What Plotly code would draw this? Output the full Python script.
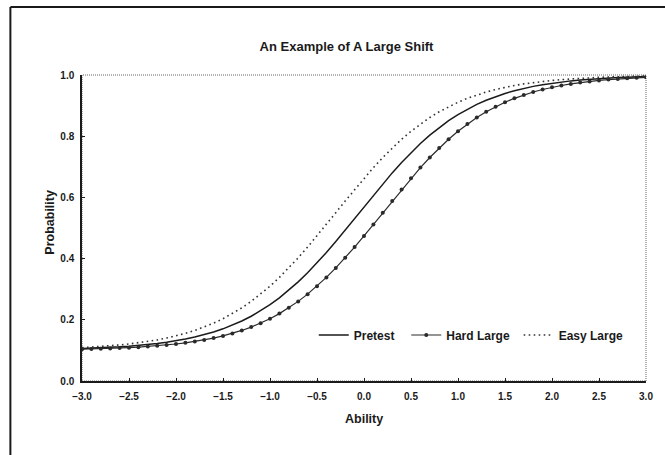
import plotly.graph_objects as go

ability = [round(-3.0 + 0.1 * i, 1) for i in range(61)]

pretest = [0.1059, 0.1070, 0.1083, 0.1098, 0.1116, 0.1138, 0.1163, 0.1192, 0.1227, 0.1268,
           0.1316, 0.1372, 0.1437, 0.1513, 0.1602, 0.1705, 0.1824, 0.1960, 0.2116, 0.2293,
           0.2493, 0.2717, 0.2966, 0.3239, 0.3537, 0.3858, 0.4199, 0.4558, 0.4929, 0.5309,
           0.5691, 0.6071, 0.6442, 0.6801, 0.7142, 0.7463, 0.7761, 0.8034, 0.8283, 0.8507,
           0.8707, 0.8884, 0.9040, 0.9176, 0.9295, 0.9398, 0.9487, 0.9563, 0.9628, 0.9684,
           0.9732, 0.9773, 0.9808, 0.9837, 0.9862, 0.9884, 0.9902, 0.9917, 0.9930, 0.9941,
           0.9950]

hard_large = [0.1039, 0.1046, 0.1055, 0.1065, 0.1076, 0.1090, 0.1107, 0.1127, 0.1150, 0.1177,
              0.1209, 0.1246, 0.1291, 0.1342, 0.1403, 0.1474, 0.1556, 0.1652, 0.1762, 0.1890,
              0.2036, 0.2202, 0.2390, 0.2602, 0.2838, 0.3099, 0.3385, 0.3695, 0.4026, 0.4377,
              0.4742, 0.5118, 0.5500, 0.5882, 0.6258, 0.6623, 0.6974, 0.7305, 0.7615, 0.7901,
              0.8162, 0.8398, 0.8610, 0.8798, 0.8964, 0.9110, 0.9238, 0.9348, 0.9444, 0.9526,
              0.9597, 0.9658, 0.9709, 0.9754, 0.9791, 0.9823, 0.9850, 0.9873, 0.9893, 0.9910,
              0.9924]

easy_large = [0.1090, 0.1107, 0.1127, 0.1150, 0.1177, 0.1209, 0.1246, 0.1291, 0.1342, 0.1403,
              0.1474, 0.1556, 0.1652, 0.1762, 0.1890, 0.2036, 0.2202, 0.2390, 0.2602, 0.2838,
              0.3099, 0.3385, 0.3695, 0.4026, 0.4377, 0.4742, 0.5118, 0.5500, 0.5882, 0.6258,
              0.6623, 0.6974, 0.7305, 0.7615, 0.7901, 0.8162, 0.8398, 0.8610, 0.8798, 0.8964,
              0.9110, 0.9238, 0.9348, 0.9444, 0.9526, 0.9597, 0.9658, 0.9709, 0.9754, 0.9791,
              0.9823, 0.9850, 0.9873, 0.9893, 0.9910, 0.9924, 0.9935, 0.9945, 0.9954, 0.9961,
              0.9967]

x_ticks = [-3.0, -2.5, -2.0, -1.5, -1.0, -0.5, 0.0, 0.5, 1.0, 1.5, 2.0, 2.5, 3.0]
y_ticks = [0.0, 0.2, 0.4, 0.6, 0.8, 1.0]

FONT = "Liberation Sans, Arial, sans-serif"
INK = "#1a1a1a"

# plot area in pixels
L, R, T, B = 82, 649, 75, 381
W, H = 665, 455


def px(x):
    return (x - L) / (R - L)


def py(y):
    return (B - y) / (B - T)


fig = go.Figure()
fig.add_trace(go.Scatter(x=ability, y=pretest, name="Pretest", mode="lines",
                         line=dict(color=INK, width=1.5), legend="legend"))
fig.add_trace(go.Scatter(x=ability, y=hard_large, name="Hard Large", mode="lines+markers",
                         line=dict(color="#2a2a2a", width=1.2),
                         marker=dict(color="#2a2a2a", size=4, symbol="circle"),
                         legend="legend2"))
fig.add_trace(go.Scatter(x=ability, y=easy_large, name="Easy Large", mode="lines",
                         line=dict(color="#333333", width=1.6, dash="1.6px,3.4px"),
                         legend="legend3"))

# dotted plot-area frame (top and right)
fig.add_shape(type="rect", xref="paper", yref="paper", x0=0, y0=0, x1=1, y1=1,
              line=dict(color="#666666", width=1, dash="1px,1px"), layer="below")
# outer chart border (left and top visible)
fig.add_shape(type="line", xref="paper", yref="paper", x0=px(10), y0=py(7), x1=px(10), y1=py(470),
              line=dict(color=INK, width=2))
fig.add_shape(type="line", xref="paper", yref="paper", x0=px(10), y0=py(7), x1=px(680), y1=py(7),
              line=dict(color=INK, width=2))

fig.add_annotation(text="Ability", xref="paper", yref="paper",
                   x=px(365.5), y=py(419), xanchor="center", yanchor="middle", showarrow=False,
                   font=dict(family=FONT, size=12.5, color=INK, weight="bold"))
fig.add_annotation(text="Probability", xref="paper", yref="paper",
                   x=px(49.5), y=py(222), xanchor="center", yanchor="middle",
                   showarrow=False, textangle=-90,
                   font=dict(family=FONT, size=12.5, color=INK, weight="bold"))

leg_common = dict(orientation="h", xanchor="left", yanchor="middle", y=py(335),
                  bgcolor="rgba(0,0,0,0)",
                  font=dict(family=FONT, size=12, color=INK, weight="bold"),
                  itemwidth=30)

fig.update_layout(
    width=W, height=H,
    margin=dict(l=L, r=W - R, t=T, b=H - B),
    paper_bgcolor="white", plot_bgcolor="white",
    title=dict(text="An Example of A Large Shift", x=346.5 / W, xref="container",
               xanchor="center", y=1 - 46 / H, yanchor="middle",
               font=dict(family=FONT, size=13, color=INK, weight="bold")),
    font=dict(family=FONT, color=INK),
    showlegend=True,
    legend=dict(x=px(315), **leg_common),
    legend2=dict(x=px(408), **leg_common),
    legend3=dict(x=px(521), **leg_common),
    xaxis=dict(range=[-3, 3], tickvals=x_ticks, tickformat=".1f", showgrid=False,
               zeroline=False, showline=True, linecolor=INK, linewidth=1.5,
               ticks="inside", ticklen=3, tickcolor=INK, ticklabelstandoff=5,
               tickfont=dict(family=FONT, size=10, color=INK, weight="bold")),
    yaxis=dict(range=[0, 1], tickvals=y_ticks, tickformat=".1f", showgrid=False,
               zeroline=False, showline=True, linecolor=INK, linewidth=1.5,
               ticks="inside", ticklen=3, tickcolor=INK, ticklabelstandoff=4,
               tickfont=dict(family=FONT, size=10, color=INK, weight="bold")),
)

fig.write_html("out.html", config={"displayModeBar": False},
               post_script="document.body.style.margin='0px';")
